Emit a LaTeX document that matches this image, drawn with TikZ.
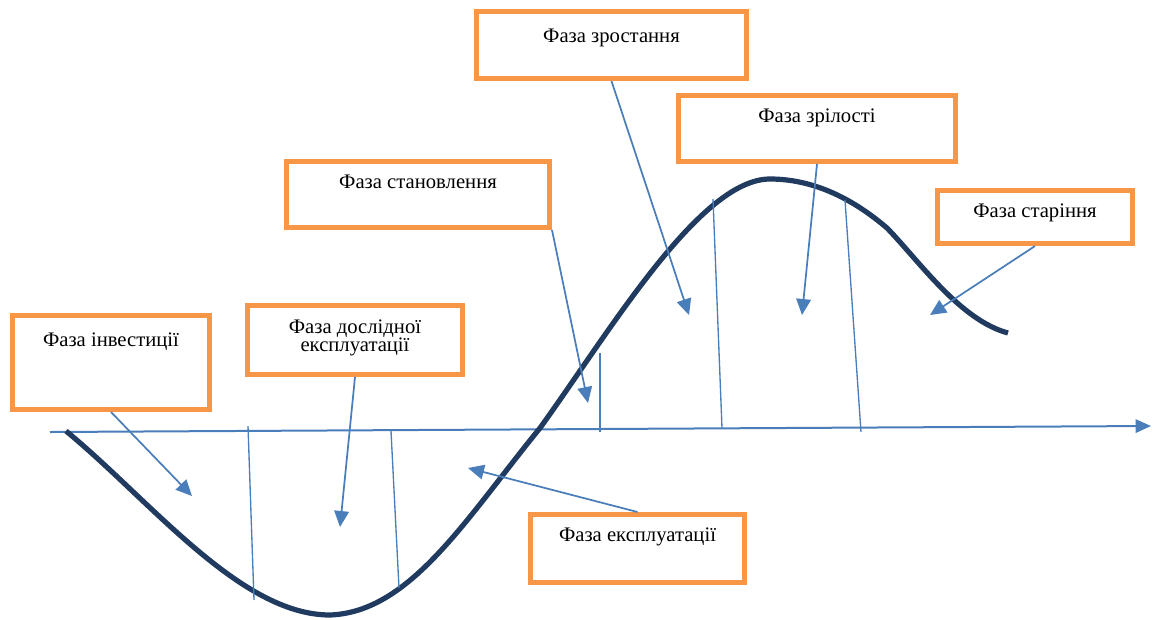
\documentclass[tikz,border=0pt]{standalone}
\usepackage{fontspec}
\setmainfont{Liberation Serif}
\usepackage{tikz}
\usetikzlibrary{arrows.meta}
\definecolor{phaseorange}{HTML}{F79646}
\definecolor{axisblue}{HTML}{4A7EBB}
\definecolor{curvenavy}{HTML}{203A60}
\tikzset{
  phase/.style ={rectangle, draw=phaseorange, line width=3.75pt, inner sep=0pt,
                 align=center, font=\fontsize{15.5pt}{13.9pt}\selectfont},
  parr/.style  ={-{Triangle[length=12pt, width=11pt]}, draw=axisblue, line width=1.3pt},
  axisarr/.style={-{Triangle[length=11.5pt, width=10pt]}, draw=axisblue, line width=1.5pt},
  divider/.style={draw=axisblue, line width=1pt},
  lifecurve/.style={draw=curvenavy, line width=3.9pt},
}

\begin{document}
\begin{tikzpicture}[x=0.75pt, y=-0.75pt]
  \useasboundingbox (0,0) rectangle (1157,619);
  % phase boxes
  \node[phase, minimum width=147.75pt, minimum height=70.5pt, text height=22.9pt, text depth=47.6pt]
    (inv) at (111,362.5) {Фаза інвестиції};
  \node[phase, minimum width=161.25pt, minimum height=51.75pt, text height=34.6pt, text depth=17.15pt]
    (dosl) at (355,340) {Фаза дослідної\\експлуатації};
  \node[phase, minimum width=197.25pt, minimum height=49.5pt, text height=20.1pt, text depth=29.4pt]
    (stan) at (418,194.5) {Фаза становлення};
  \node[phase, minimum width=202.5pt, minimum height=50.25pt, text height=22.9pt, text depth=27.4pt]
    (zrost) at (611.5,45) {Фаза зростання};
  \node[phase, minimum width=207.75pt, minimum height=49.5pt, text height=19.9pt, text depth=29.6pt]
    (zril) at (817,128.5) {Фаза зрілості};
  \node[phase, minimum width=146.25pt, minimum height=39.75pt, text height=19.9pt, text depth=19.9pt]
    (star) at (1035,217) {Фаза старіння};
  \node[phase, minimum width=160.5pt, minimum height=51pt, text height=20.4pt, text depth=30.6pt]
    (expl) at (637.5,548.5) {Фаза експлуатації};

  % axis
  \coordinate (axstart) at (50,432);
  \coordinate (axend) at (1151,426);
  \draw[axisarr] (axstart) -- (axend);

  % life curve
  \draw[lifecurve] (66,431) .. controls (150,500) and (240,615) .. (330,615)
    .. controls (410,612) and (465,520) .. (540,428)
    .. controls (610,331) and (700,179) .. (770,179)
    .. controls (820,179) and (860,205) .. (887,228)
    .. controls (920,262) and (960,320) .. (1008,333);

  % phase borders
  \draw[divider] (248,426) -- (254,600);
  \draw[divider] (391,431) -- (399,588);
  \draw[divider] (600,353) -- (600,432);
  \draw[divider] (713,199) -- (722,428);
  \draw[divider] (845,200) -- (861,432);

  % pointers
  \coordinate (tinv)   at (192,496);
  \coordinate (tdosl)  at (340,527);
  \coordinate (tstan)  at (588,403);
  \coordinate (tzrost) at (689,315);
  \coordinate (tzril)  at (802,315);
  \coordinate (tstar)  at (930,315);
  \coordinate (texpl)  at (468,468);
  \draw[parr] (inv.south) -- (tinv);
  \draw[parr] (dosl.south) -- (tdosl);
  \draw[parr] (stan.south east) -- (tstan);
  \draw[parr] (zrost.south) -- (tzrost);
  \draw[parr] (zril.south) -- (tzril);
  \draw[parr] (star.south) -- (tstar);
  \draw[parr] (expl.north) -- (texpl);
\end{tikzpicture}
\end{document}
